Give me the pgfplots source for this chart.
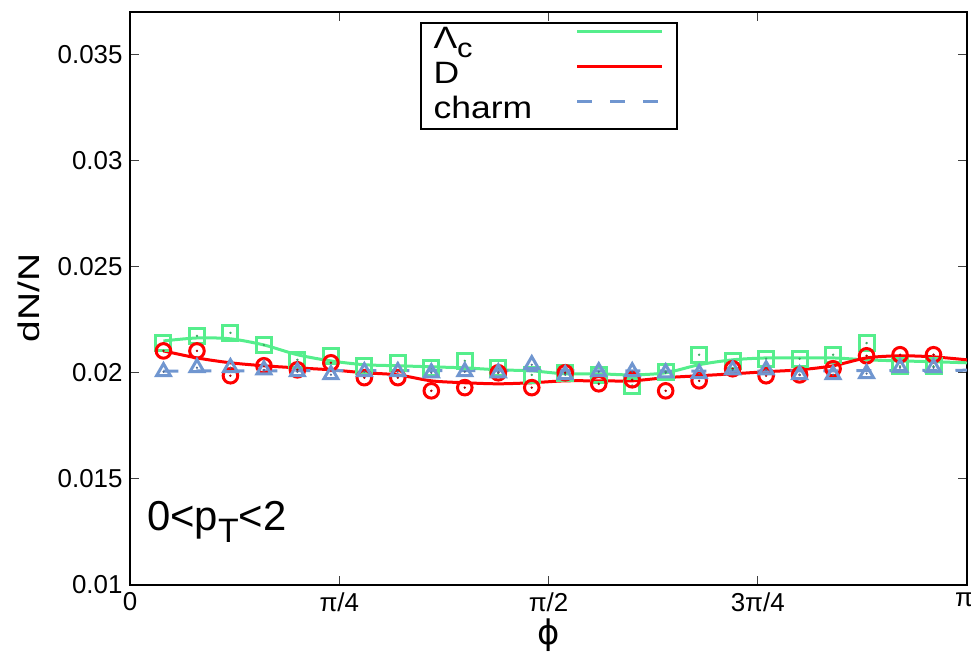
\documentclass[border=0pt]{standalone}
\usepackage{fontspec}
\setmainfont{Liberation Sans}
\newfontfamily\dejavu{DejaVu Sans}
\usepackage{pgfplots}
\pgfplotsset{compat=1.18}
\definecolor{lgreen}{RGB}{85,238,140}
\definecolor{lred}{RGB}{255,0,0}
\definecolor{lblue}{RGB}{112,150,208}
\newcommand\legtext[1]{\makebox[142bp][l]{\scalebox{1.15}[1]{#1}}}
\begin{document}
\begin{tikzpicture}
\begin{axis}[
 at={(0,0)}, anchor=south west,
 scale only axis, width=837bp, height=573bp,
 xmin=0, xmax=3.14159, ymin=0.01, ymax=0.037,
 xtick={0,0.785398,1.570796,2.356194,3.14159},
 xticklabels={0,π/4,π/2,3π/4,\hspace*{-6bp}π},
 ytick={0.01,0.015,0.02,0.025,0.03,0.035},
 yticklabels={0.01,0.015,0.02,0.025,0.03,0.035},
 scaled y ticks=false,
 tick label style={font=\fontsize{26}{30}\selectfont},
 xticklabel style={yshift=-4bp},
 yticklabel style={xshift=-4bp},
 axis line style={line width=2.5bp},
 major tick length=9bp,
 tick style={line width=1.2bp, color=black!75},
 xlabel={\dejavu ϕ},
 xlabel style={font=\fontsize{34}{40}\selectfont, at={(axis description cs:0.5,0)}, anchor=center, yshift=-50bp, inner sep=0pt},
 legend plot pos=right,
 legend cell align=left,
 legend style={at={(axis description cs:0.5,1)}, anchor=north, yshift=-10bp,
   draw=black, line width=2bp, fill=white,
   font=\fontsize{31}{34}\selectfont,
   inner xsep=13bp, inner ysep=0.5bp, column sep=0pt, row sep=0pt,
   nodes={inner sep=0pt, text height=25bp, text depth=10bp}},
 legend image code/.code={\draw[#1] (0bp,9.5bp) -- (66bp,9.5bp); \path (0bp,9.5bp) -- (85bp,9.5bp);},
 clip=true,
]
% Lambda_c
\addplot[lgreen, line width=3bp, smooth] coordinates {
(0.1257,0.0215)(0.2513,0.02164)(0.3770,0.0216)(0.5027,0.02131)(0.6283,0.02085)(0.7540,0.02056)(0.8796,0.02038)(1.0053,0.02033)(1.1310,0.02028)(1.2566,0.02023)(1.3823,0.02014)(1.5080,0.02009)(1.6336,0.01995)(1.7593,0.01995)(1.8850,0.0199)(2.0106,0.0200)(2.1363,0.02038)(2.2619,0.02061)(2.3876,0.0207)(2.5133,0.0207)(2.6389,0.0207)(2.7646,0.02061)(2.8903,0.02056)(3.0159,0.02052)(3.1416,0.02047)};
\addlegendentry{\legtext{Λ\raisebox{-9bp}{\fontsize{27}{30}\selectfont c}}}
\addplot[lgreen, only marks, mark=square, mark size=7.5bp, line width=3bp, forget plot] coordinates {
(0.1257,0.02141)(0.2513,0.02174)(0.3770,0.02188)(0.5027,0.02131)(0.6283,0.02061)(0.7540,0.0208)(0.8796,0.02033)(1.0053,0.02047)(1.1310,0.02023)(1.2566,0.02056)(1.3823,0.02023)(1.5080,0.01990)(1.6336,0.0200)(1.7593,0.0199)(1.8850,0.0194)(2.0106,0.02005)(2.1363,0.02085)(2.2619,0.02056)(2.3876,0.02066)(2.5133,0.02066)(2.6389,0.02085)(2.7646,0.0214)(2.8903,0.0203)(3.0159,0.0203)};
\addplot[lgreen!70!black, only marks, mark=*, mark size=1bp, forget plot] coordinates {
(0.1257,0.02141)(0.2513,0.02174)(0.3770,0.02188)(0.5027,0.02131)(0.6283,0.02061)(0.7540,0.0208)(0.8796,0.02033)(1.0053,0.02047)(1.1310,0.02023)(1.2566,0.02056)(1.3823,0.02023)(1.5080,0.01990)(1.6336,0.0200)(1.7593,0.0199)(1.8850,0.0194)(2.0106,0.02005)(2.1363,0.02085)(2.2619,0.02056)(2.3876,0.02066)(2.5133,0.02066)(2.6389,0.02085)(2.7646,0.0214)(2.8903,0.0203)(3.0159,0.0203)};
% D
\addplot[lred, line width=3bp, smooth] coordinates {
(0.1257,0.02103)(0.2513,0.0207)(0.3770,0.02047)(0.5027,0.02033)(0.6283,0.02023)(0.7540,0.02014)(0.8796,0.0200)(1.0053,0.0199)(1.1310,0.01962)(1.2566,0.01953)(1.3823,0.01948)(1.5080,0.01953)(1.6336,0.01962)(1.7593,0.01962)(1.8850,0.01962)(2.0106,0.01977)(2.1363,0.01986)(2.2619,0.01995)(2.3876,0.02005)(2.5133,0.02014)(2.6389,0.02033)(2.7646,0.0207)(2.8903,0.0208)(3.0159,0.02075)(3.1416,0.02061)};
\addlegendentry{\legtext{D}}
\addplot[lred, only marks, mark=o, mark size=7.3bp, line width=3bp, forget plot] coordinates {
(0.1257,0.02103)(0.2513,0.02103)(0.3770,0.01986)(0.5027,0.02033)(0.6283,0.02014)(0.7540,0.02047)(0.8796,0.01977)(1.0053,0.01977)(1.1310,0.01915)(1.2566,0.0193)(1.3823,0.0200)(1.5080,0.0193)(1.6336,0.0200)(1.7593,0.01948)(1.8850,0.01967)(2.0106,0.01915)(2.1363,0.01962)(2.2619,0.02019)(2.3876,0.01986)(2.5133,0.0199)(2.6389,0.02019)(2.7646,0.0208)(2.8903,0.02085)(3.0159,0.02085)};
\addplot[lred!70!black, only marks, mark=*, mark size=1bp, forget plot] coordinates {
(0.1257,0.02103)(0.2513,0.02103)(0.3770,0.01986)(0.5027,0.02033)(0.6283,0.02014)(0.7540,0.02047)(0.8796,0.01977)(1.0053,0.01977)(1.1310,0.01915)(1.2566,0.0193)(1.3823,0.0200)(1.5080,0.0193)(1.6336,0.0200)(1.7593,0.01948)(1.8850,0.01967)(2.0106,0.01915)(2.1363,0.01962)(2.2619,0.02019)(2.3876,0.01986)(2.5133,0.0199)(2.6389,0.02019)(2.7646,0.0208)(2.8903,0.02085)(3.0159,0.02085)};
% charm
\addplot[lblue, line width=3bp, dash pattern=on 15bp off 18bp, smooth] coordinates {
(0.1257,0.02008)(0.7540,0.02010)(1.5080,0.02010)(2.2619,0.02008)(3.1416,0.02012)};
\addlegendentry{\legtext{charm}}
\addplot[lblue, only marks, mark=triangle, mark size=8bp, line width=3bp, forget plot] coordinates {
(0.1257,0.02005)(0.2513,0.02024)(0.3770,0.02024)(0.5027,0.02014)(0.6283,0.02005)(0.7540,0.01991)(0.8796,0.02005)(1.0053,0.02005)(1.1310,0.02000)(1.2566,0.02005)(1.3823,0.02000)(1.5080,0.02038)(1.6336,0.01991)(1.7593,0.02005)(1.8850,0.02005)(2.0106,0.02000)(2.1363,0.01996)(2.2619,0.02014)(2.3876,0.02014)(2.5133,0.01991)(2.6389,0.01991)(2.7646,0.01996)(2.8903,0.02024)(3.0159,0.02024)};
\addplot[lblue!70!black, only marks, mark=*, mark size=0.9bp, forget plot] coordinates {
(0.1257,0.02005)(0.2513,0.02024)(0.3770,0.02024)(0.5027,0.02014)(0.6283,0.02005)(0.7540,0.01991)(0.8796,0.02005)(1.0053,0.02005)(1.1310,0.02000)(1.2566,0.02005)(1.3823,0.02000)(1.5080,0.02038)(1.6336,0.01991)(1.7593,0.02005)(1.8850,0.02005)(2.0106,0.02000)(2.1363,0.01996)(2.2619,0.02014)(2.3876,0.02014)(2.5133,0.01991)(2.6389,0.01991)(2.7646,0.01996)(2.8903,0.02024)(3.0159,0.02024)};
\node[anchor=base west, inner sep=0pt, xshift=17bp, yshift=55bp, font=\fontsize{42}{48}\selectfont] at (rel axis cs:0,0) {0<p\raisebox{-12bp}{\fontsize{34}{38}\selectfont T}<2};
\end{axis}
\node[rotate=90, anchor=center, inner sep=0pt, font=\fontsize{30}{34}\selectfont] at (-101bp,287bp) {\scalebox{1.3}[1]{dN/N}};
\pgfresetboundingbox
\useasboundingbox (-130bp,-70bp) rectangle (841bp,585bp);
\end{tikzpicture}
\end{document}
